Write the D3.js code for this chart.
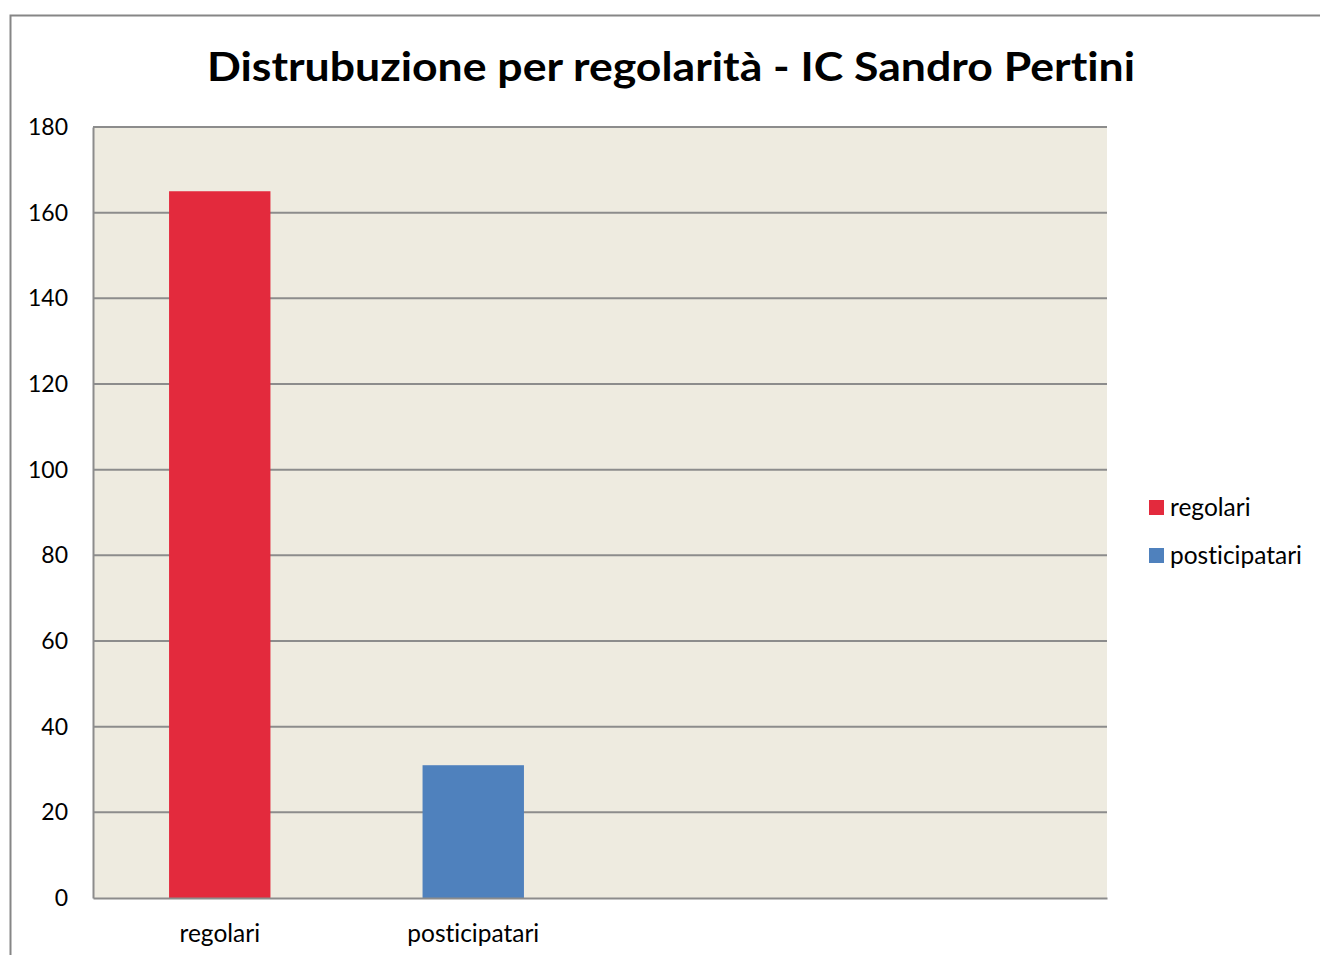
<!DOCTYPE html>
<html>
<head>
<meta charset="utf-8">
<script src="https://cdn.jsdelivr.net/npm/d3@7"></script>
<style>
  body { margin: 0; background: #fff; }
  svg { display: block; font-family: Lato, "Open Sans", sans-serif; font-variant-ligatures: none; }
</style>
</head>
<body>
<div id="chart"></div>
<script>
// data
var categories = ["regolari", "posticipatari", "", " "];
var values = [165, 31];
var seriesNames = ["regolari", "posticipatari"];
var colors = ["#E32A3D", "#4F81BD"];
var yTicks = [0, 20, 40, 60, 80, 100, 120, 140, 160, 180];
var title = "Distrubuzione per regolarità - IC Sandro Pertini";

var width = 1320, height = 955;
var margin = {left: 93, right: 213, top: 127, bottom: 57};

var svg = d3.select("#chart").append("svg")
    .attr("width", width)
    .attr("height", height);

// outer chart border
svg.append("path")
    .attr("d", "M10.5," + height + " V15.5 H" + width)
    .attr("fill", "none")
    .attr("stroke", "#868686")
    .attr("stroke-width", 2);

var x = d3.scaleBand()
    .domain(categories)
    .range([margin.left, width - margin.right])
    .paddingInner(0.6)
    .paddingOuter(0.3);

var y = d3.scaleLinear()
    .domain([0, 180])
    .range([height - margin.bottom, margin.top]);

// plot background
svg.append("rect")
    .attr("x", margin.left)
    .attr("y", margin.top)
    .attr("width", width - margin.right - margin.left)
    .attr("height", y(0) - margin.top)
    .attr("fill", "#EEEBE0");

// gridlines
svg.append("g")
    .selectAll("line")
    .data(yTicks.filter(function(d) { return d > 0; }))
    .enter().append("line")
    .attr("x1", margin.left)
    .attr("x2", width - margin.right)
    .attr("y1", function(d) { return y(d); })
    .attr("y2", function(d) { return y(d); })
    .attr("stroke", "#8c8c8c")
    .attr("stroke-width", 2);

// bars
svg.append("g")
    .selectAll("rect")
    .data(values)
    .enter().append("rect")
    .attr("x", function(d, i) { return x(categories[i]); })
    .attr("y", function(d) { return y(d); })
    .attr("width", x.bandwidth())
    .attr("height", function(d) { return y(0) - y(d); })
    .attr("fill", function(d, i) { return colors[i]; });

// y axis
var yAxis = svg.append("g")
    .attr("transform", "translate(" + margin.left + ",0)")
    .call(d3.axisLeft(y).tickValues(yTicks).tickSize(0).tickPadding(25));
yAxis.select(".domain").attr("stroke", "#8c8c8c").attr("stroke-width", 2);
yAxis.selectAll("text").attr("font-size", 23).attr("fill", "#000")
    .attr("font-family", "Lato, 'Open Sans', sans-serif");

// x axis
var xAxis = svg.append("g")
    .attr("transform", "translate(0," + y(0) + ")")
    .call(d3.axisBottom(x).tickSize(0).tickPadding(27));
xAxis.select(".domain").attr("stroke", "#8c8c8c").attr("stroke-width", 2);
xAxis.selectAll("text").attr("font-size", 24.5).attr("fill", "#000")
    .attr("font-family", "Lato, 'Open Sans', sans-serif");

// title
svg.append("text")
    .attr("x", 671)
    .attr("y", 81)
    .attr("text-anchor", "middle")
    .attr("font-size", 40)
    .attr("font-weight", "bold")
    .attr("textLength", 928)
    .attr("lengthAdjust", "spacingAndGlyphs")
    .text(title);

// legend
var legend = svg.append("g")
    .selectAll("g")
    .data(seriesNames)
    .enter().append("g")
    .attr("transform", function(d, i) { return "translate(1149," + (500 + i * 48) + ")"; });
legend.append("rect")
    .attr("width", 15)
    .attr("height", 15)
    .attr("fill", function(d, i) { return colors[i]; });
legend.append("text")
    .attr("x", 21)
    .attr("y", 16)
    .attr("font-size", 24.5)
    .text(function(d) { return d; });
</script>
</body>
</html>
